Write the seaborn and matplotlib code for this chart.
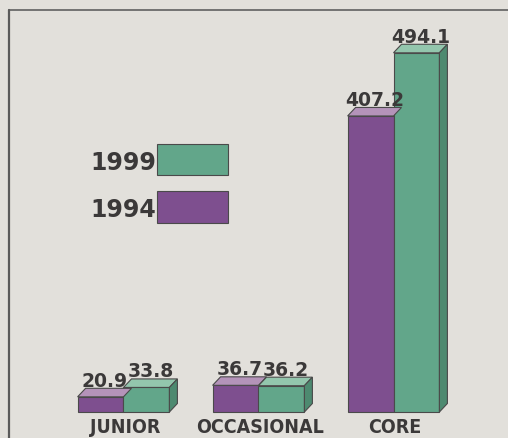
import matplotlib
matplotlib.use("Agg")
import matplotlib.pyplot as plt
import seaborn as sns
import pandas as pd
from matplotlib.patches import Polygon, Rectangle
from matplotlib.lines import Line2D

categories = ["JUNIOR", "OCCASIONAL", "CORE"]
years = ["1994", "1999"]
values_1994 = [20.9, 36.7, 407.2]
values_1999 = [33.8, 36.2, 494.1]
value_labels_1994 = ["20.9", "36.7", "407.2"]
value_labels_1999 = ["33.8", "36.2", "494.1"]

W, H = 508, 439
BG = "#e2e0db"
TXT = "#3b3939"
EDGE = "#4a4a4a"
front = {"1994": "#7e4f8f", "1999": "#62a68a"}
top = {"1994": "#b493b9", "1999": "#93c6ad"}
side = {"1994": "#5e3a6c", "1999": "#4d8a70"}

df = pd.DataFrame({
    "category": categories * 2,
    "year": [years[0]] * 3 + [years[1]] * 3,
    "value": values_1994 + values_1999,
})

sns.set_theme(style="white")
plt.rcParams["font.family"] = ["DejaVu Sans"]

fig = plt.figure(figsize=(W / 100, H / 100), dpi=100, facecolor=BG)
ax = fig.add_axes([0, 0, 1, 1])
ax.set_facecolor(BG)

sns.barplot(data=df, x="category", y="value", hue="year", hue_order=years,
            order=categories, palette=front, width=0.68, dodge=True, saturation=1,
            edgecolor=EDGE, linewidth=0.8, legend=False, ax=ax, errorbar=None)

# pixel <-> data scales
px_per_x = 135.0
px_per_y = 0.727
x0_px = 123.5
base_px = 413.0
ax.set_xlim(-x0_px / px_per_x, (W - x0_px) / px_per_x)
ax.set_ylim(-(H - base_px) / px_per_y, base_px / px_per_y)
ax.set_axis_off()

dx = 8.0 / px_per_x
dy = 8.5 / px_per_y
pad = 2.5 / px_per_y

labels = {"1994": value_labels_1994, "1999": value_labels_1999}
for yr, cont in zip(years, ax.containers):
    for i, bar in enumerate(cont):
        x = bar.get_x()
        w = bar.get_width()
        h = bar.get_height()
        # top face
        ax.add_patch(Polygon([(x, h), (x + w, h), (x + w + dx, h + dy), (x + dx, h + dy)],
                             closed=True, facecolor=top[yr], edgecolor=EDGE,
                             linewidth=0.8, zorder=3))
        if yr == "1999":
            ax.add_patch(Polygon([(x + w, 0), (x + w, h), (x + w + dx, h + dy), (x + w + dx, dy)],
                                 closed=True, facecolor=side[yr], edgecolor=EDGE,
                                 linewidth=0.8, zorder=3))
        ax.text(x + w / 2 + dx / 2, h + dy + pad, labels[yr][i], ha="center",
                va="baseline", fontsize=13.5, fontweight="bold", color=TXT, zorder=5)

for i, cat in enumerate(categories):
    ax.text(i + 0.01, -(433 - base_px) / px_per_y, cat, ha="center", va="baseline",
            fontsize=14, fontweight="bold", fontstretch="condensed", color=TXT)

# legend drawn manually in pixel coordinates
def px(x, y):
    return (x / W, 1 - y / H)

for yr, (ytop, ybot) in zip(["1999", "1994"], [(145, 176), (192, 224)]):
    xy = px(157, ybot)
    fig.patches.append(Rectangle(xy, 71 / W, (ybot - ytop) / H, transform=fig.transFigure,
                                 facecolor=front[yr], edgecolor=EDGE, linewidth=0.8))
    tx, ty = px(156, (ytop + ybot) / 2 + 9)
    fig.text(tx, ty, yr, ha="right", va="baseline", fontsize=17, fontweight="bold", color=TXT)

# frame lines (top and left)
fig.lines.append(Line2D([9 / W, 1], [1 - 11 / H, 1 - 11 / H], transform=fig.transFigure,
                        color="#6a6a6a", linewidth=1.3))
fig.lines.append(Line2D([9 / W, 9 / W], [1 - 11 / H, 0], transform=fig.transFigure,
                        color="#5a5a5a", linewidth=1.6))

fig.savefig("out.png", dpi=100, facecolor=BG)
